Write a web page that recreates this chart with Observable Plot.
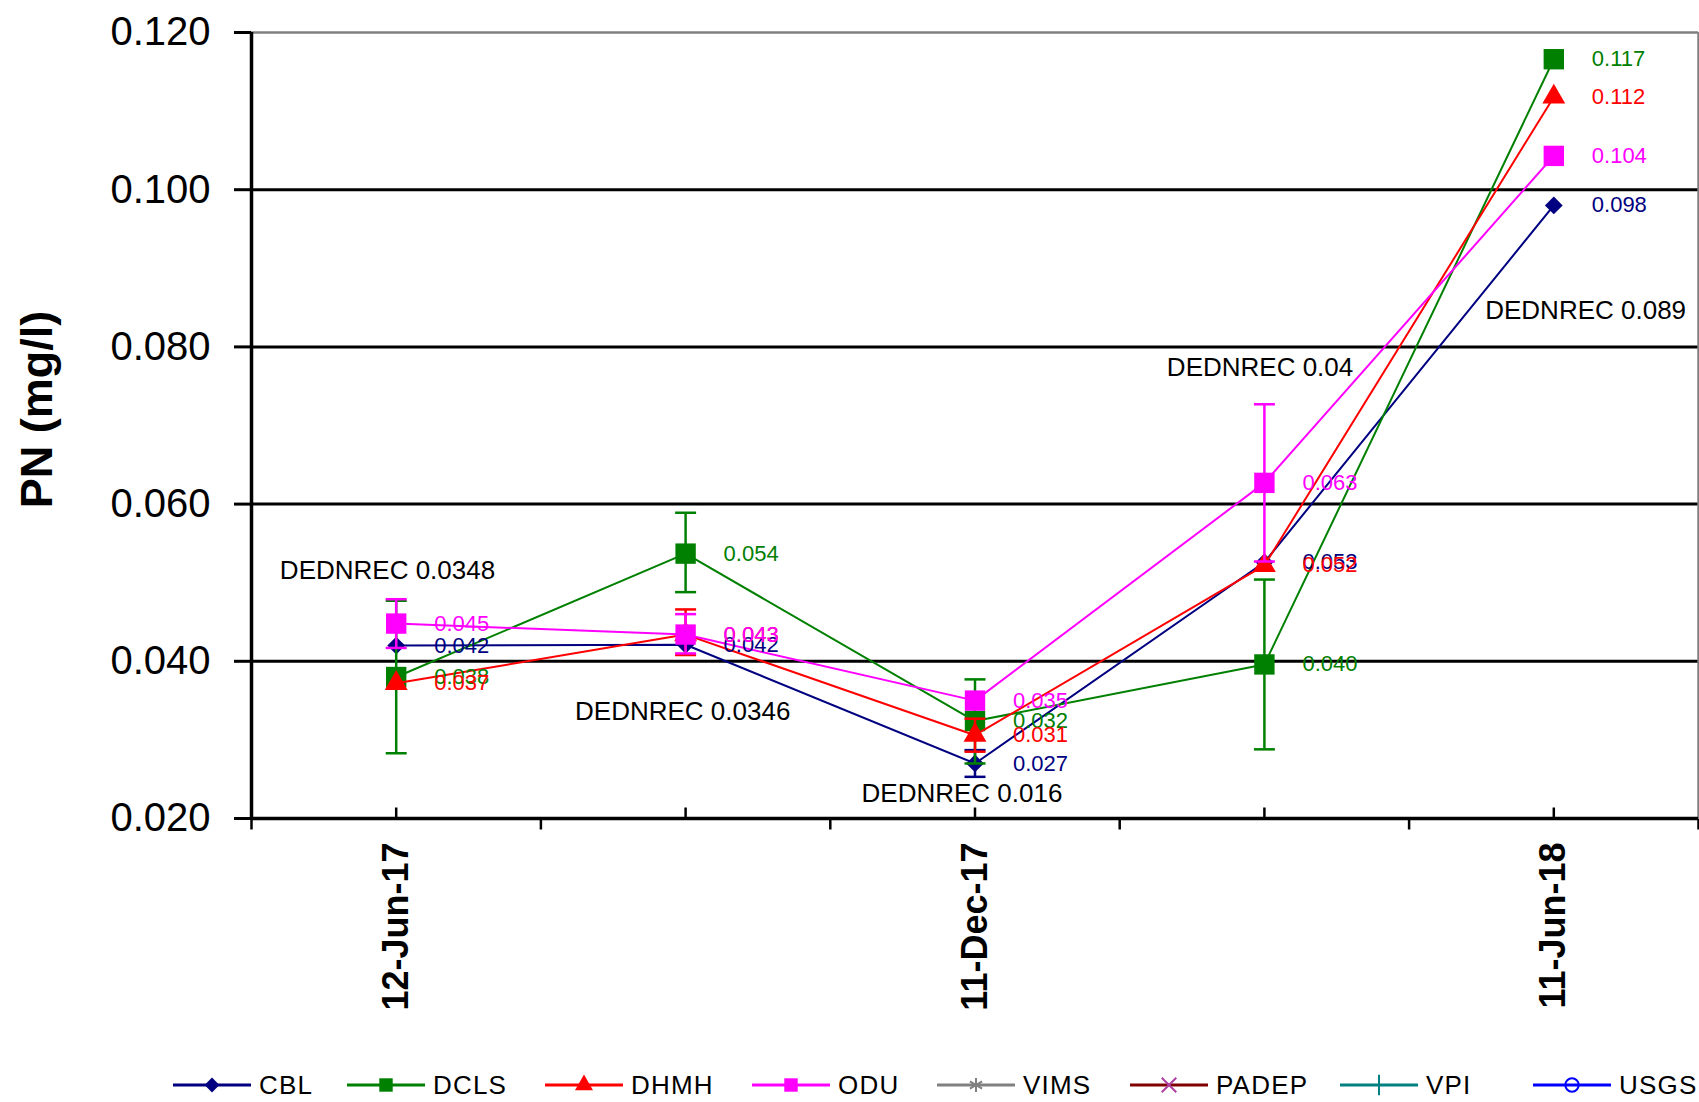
<!DOCTYPE html>
<html><head><meta charset="utf-8">
<script src="https://cdn.jsdelivr.net/npm/d3@7"></script>
<script src="https://cdn.jsdelivr.net/npm/@observablehq/plot@0.6"></script>
<style>
body{margin:0;background:#fff;font-family:"Liberation Sans",Arial,sans-serif;overflow:hidden;}
#legend{position:relative;height:42px;width:1699px;}
.item{position:absolute;top:5px;height:40px;display:flex;align-items:center;font-size:26px;letter-spacing:1.2px;color:#000;white-space:nowrap;}
.item svg{margin-right:8px;flex:none;}
</style></head><body><div id="chart"></div><div id="legend"></div>
<script>
// Sampling dates (only every other one is labelled on the axis)
const dates = ["12-Jun-17", "", "11-Dec-17", "", "11-Jun-18"];
const yTicks = [0.020, 0.040, 0.060, 0.080, 0.100, 0.120];

// Series drawn in the chart
const seriesNames = ["CBL", "DCLS", "DHMH", "ODU"];
const seriesColors = ["#000080", "#008000", "#FF0000", "#FF00FF"];
const seriesSymbols = ["diamond2", "square", "triangle", "square"];

const cblValues  = [0.0420, 0.0421, 0.0270, 0.0526, 0.0980];
const dclsValues = [0.0380, 0.0537, 0.0324, 0.0396, 0.1166];
const dhmhValues = [0.0372, 0.0434, 0.0306, 0.0522, 0.1118];
const oduValues  = [0.0448, 0.0434, 0.0350, 0.0627, 0.1043];

// Error bars (low, high) — null where none is drawn
const cblErr  = [null, null, [0.0253, 0.0287], null, null];
const dclsErr = [[0.0283, 0.0477], [0.0488, 0.0589], [0.0270, 0.0377], [0.0288, 0.0504], null];
const dhmhErr = [null, [0.0408, 0.0466], [0.0285, 0.0327], null, null];
const oduErr  = [[0.0417, 0.0479], [0.0410, 0.0460], null, [0.0527, 0.0727], null];

// DEDNREC annotations (anchored at a date index and a PN value)
const annoText = ["DEDNREC 0.0348", "DEDNREC 0.0346", "DEDNREC 0.016", "DEDNREC 0.04", "DEDNREC 0.089"];
const annoX    = [-0.03, 0.99, 1.955, 2.985, 4.11];
const annoY    = [0.0515, 0.0336, 0.0231, 0.0773, 0.0846];

// Legend entries (all laboratories)
const legendNames   = ["CBL", "DCLS", "DHMH", "ODU", "VIMS", "PADEP", "VPI", "USGS"];
const legendColors  = ["#000080", "#008000", "#FF0000", "#FF00FF", "#808080", "#800000", "#008080", "#0000FF"];
const legendSymbols = ["diamond", "square", "triangle", "square", "asterisk", "x", "plus", "circle"];
const legendLeft    = [173, 347, 545, 752, 937, 1130, 1340, 1533];

const allValues = [cblValues, dclsValues, dhmhValues, oduValues];
const allErr = [cblErr, dclsErr, dhmhErr, oduErr];
const fmt = d3.format(".3f");
const idx = dates.map((d, i) => i);
const bounds = d3.range(dates.length + 1).map(i => i - 0.5);

// custom line-segment symbols (caps and axis ticks)
const capSymbol = {draw(ctx) { ctx.moveTo(-10.5, 0); ctx.lineTo(10.5, 0); }};
const tickUp = {draw(ctx) { ctx.moveTo(0, 0); ctx.lineTo(0, -11); }};
const tickDown = {draw(ctx) { ctx.moveTo(0, 0); ctx.lineTo(0, 11); }};

const seriesMarks = [];
const labelRows = [];
seriesNames.forEach((name, si) => {
  const color = seriesColors[si];
  const rows = allValues[si].map((v, i) => ({i, v}));
  const err = allErr[si].map((e, i) => e ? {i, lo: e[0], hi: e[1]} : null).filter(Boolean);
  rows.forEach(r => labelRows.push({...r, color}));
  seriesMarks.push(
    Plot.line(rows, {x: "i", y: "v", stroke: color, strokeWidth: 2}),
    Plot.ruleX(err, {x: "i", y1: "lo", y2: "hi", stroke: color, strokeWidth: 2.5}),
    Plot.dot(err, {x: "i", y: "hi", symbol: capSymbol, fill: "none", stroke: color, strokeWidth: 2.5}),
    Plot.dot(err, {x: "i", y: "lo", symbol: capSymbol, fill: "none", stroke: color, strokeWidth: 2.5}),
    Plot.dot(rows, {x: "i", y: "v", symbol: () => seriesSymbols[si], r: seriesSymbols[si] === "square" ? 11.5 : (seriesSymbols[si] === "triangle" ? 8.5 : 8), fill: color, stroke: "none"})
  );
});

const chart = Plot.plot({
  width: 1699, height: 1060,
  marginLeft: 251, marginRight: 1, marginTop: 32, marginBottom: 242,
  x: {domain: [-0.5, dates.length - 0.5], axis: null},
  y: {domain: [0.02, 0.12], axis: null},
  style: {fontFamily: "'Liberation Sans', Arial, sans-serif", background: "white", color: "black"},
  marks: [
    Plot.ruleY([0.04, 0.06, 0.08, 0.10], {stroke: "black", strokeWidth: 3}),
    Plot.ruleY([0.12], {stroke: "#808080", strokeWidth: 2.5}),
    Plot.ruleX([bounds[bounds.length - 1]], {stroke: "#808080", strokeWidth: 2.5}),
    Plot.ruleY([0.02], {stroke: "black", strokeWidth: 3.5}),
    Plot.ruleX([bounds[0]], {y1: 0.02, y2: 0.12, stroke: "black", strokeWidth: 3.5}),
    Plot.axisY({ticks: yTicks, tickFormat: fmt, tickSize: 17, tickPadding: 24, fontSize: 40, strokeWidth: 3, color: "black"}),
    Plot.dot(bounds, {x: d => d, y: () => 0.02, symbol: tickDown, fill: "none", stroke: "black", strokeWidth: 2.5}),
    Plot.dot(idx, {x: d => d, y: () => 0.02, symbol: tickUp, fill: "none", stroke: "black", strokeWidth: 2.5}),
    Plot.text(idx, {x: d => d, y: () => 0.02, text: d => dates[d], rotate: -90, textAnchor: "end", dy: 24, fontSize: 36, fontWeight: "bold", fill: "black"}),
    Plot.text(["PN (mg/l)"], {frameAnchor: "left", textAnchor: "middle", dx: -214, dy: -16, rotate: -90, fontSize: 45, fontWeight: "bold", fill: "black"}),
    ...seriesMarks,
    Plot.text(labelRows, {x: "i", y: "v", text: d => fmt(d.v), fill: d => d.color, dx: 38, textAnchor: "start", fontSize: 22}),
    Plot.text(annoText, {x: (d, i) => annoX[i], y: (d, i) => annoY[i], text: d => d, fontSize: 26, fill: "black"})
  ]
});
document.getElementById("chart").appendChild(chart);

// Legend
const legend = document.getElementById("legend");
legendNames.forEach((name, i) => {
  const item = document.createElement("div");
  item.className = "item";
  item.style.left = legendLeft[i] + "px";
  const sym = d3.symbol().type({
    diamond: d3.symbolDiamond2, square: d3.symbolSquare, triangle: d3.symbolTriangle,
    asterisk: d3.symbolAsterisk, x: d3.symbolX, plus: d3.symbolPlus, circle: d3.symbolCircle
  }[legendSymbols[i]]).size(legendSymbols[i] === "square" ? 180 : 140)();
  const open = ["asterisk", "x", "plus", "circle"].includes(legendSymbols[i]);
  item.innerHTML = `<svg width="78" height="40"><line x1="0" x2="78" y1="20" y2="20" stroke="${legendColors[i]}" stroke-width="3"/>` +
    `<path d="${sym}" transform="translate(39,20)" fill="${open ? "none" : legendColors[i]}" stroke="${open ? (legendSymbols[i] === "x" ? "#B040A0" : legendColors[i]) : "none"}" stroke-width="2"/></svg><span>${name}</span>`;
  legend.appendChild(item);
});
</script>
</body></html>
